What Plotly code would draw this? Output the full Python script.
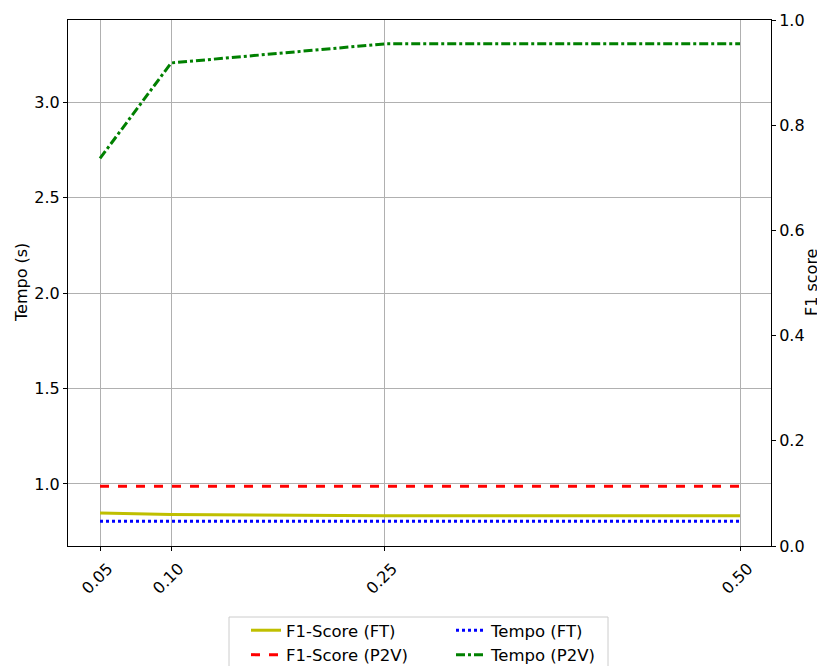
import plotly.graph_objects as go

x_vals = [0.05, 0.10, 0.25, 0.50]
x_ticklabels = ["0.05", "0.10", "0.25", "0.50"]
f1_ft = [0.848, 0.840, 0.834, 0.833]
f1_p2v = [0.988, 0.988, 0.991, 0.988]
tempo_ft = [0.805, 0.805, 0.805, 0.805]
tempo_p2v = [2.705, 3.205, 3.305, 3.305]

FONT = "DejaVu Sans"
W, H = 825, 666
OFF = 8  # page body margin offset
# plot area in page pixels: left 68, right 771, top 20, bottom 546
L = 68 - OFF
T = 20 - OFF
R = W - (771 - OFF)
B = H - (546 - OFF)
PW, PH = W - L - R, H - T - B


def px_x(p):
    """page pixel x -> paper fraction"""
    return (p - OFF - L) / PW


def px_y(p):
    """page pixel y -> paper fraction"""
    return (T + PH - (p - OFF)) / PH


fig = go.Figure()
fig.add_trace(go.Scatter(x=x_vals, y=f1_ft, mode="lines", name="F1-Score (FT)",
                         line=dict(color="#bfbf00", width=3), legend="legend"))
fig.add_trace(go.Scatter(x=x_vals, y=f1_p2v, mode="lines", name="F1-Score (P2V)",
                         line=dict(color="#ff0000", width=3, dash="dash"), legend="legend"))
fig.add_trace(go.Scatter(x=x_vals, y=tempo_ft, mode="lines", name="Tempo (FT)",
                         line=dict(color="#0000ff", width=3, dash="dot"), legend="legend2"))
fig.add_trace(go.Scatter(x=x_vals, y=tempo_p2v, mode="lines", name="Tempo (P2V)",
                         line=dict(color="#008000", width=3, dash="dashdot"), legend="legend2"))
# invisible trace to activate the right axis
fig.add_trace(go.Scatter(x=[x_vals[0]], y=[0], yaxis="y2", mode="lines",
                         showlegend=False, hoverinfo="skip", line=dict(width=0)))

leg_common = dict(orientation="v", yanchor="top", xanchor="left", bgcolor="rgba(0,0,0,0)",
                  borderwidth=0, font=dict(size=16.5, family=FONT), tracegroupgap=0)

fig.update_layout(
    width=W, height=H,
    paper_bgcolor="white", plot_bgcolor="white",
    margin=dict(l=L, r=R, t=T, b=B, autoexpand=False),
    font=dict(family=FONT, size=16, color="black"),
    xaxis=dict(range=[0.0275, 0.5218], tickvals=x_vals, ticktext=x_ticklabels,
               tickangle=-45, showgrid=True, gridcolor="#b0b0b0", gridwidth=1,
               showline=True, linecolor="black", linewidth=1, mirror=True,
               ticks="outside", ticklen=4, tickcolor="black", zeroline=False,
               ticklabelshift=8, ticklabelstandoff=2,
               automargin=False),
    yaxis=dict(range=[0.675, 3.43], tickvals=[1.0, 1.5, 2.0, 2.5, 3.0],
               ticktext=["1.0", "1.5", "2.0", "2.5", "3.0"],
               showgrid=True, gridcolor="#b0b0b0", gridwidth=1,
               showline=True, linecolor="black", linewidth=1, mirror=True,
               ticks="outside", ticklen=4, tickcolor="black", zeroline=False,
               automargin=False),
    yaxis2=dict(range=[0, 1], overlaying="y", side="right",
                tickvals=[0, 0.2, 0.4, 0.6, 0.8, 1.0],
                ticktext=["0.0", "0.2", "0.4", "0.6", "0.8", "1.0"],
                showgrid=False, zeroline=False, showline=True, linecolor="black",
                ticks="outside", ticklen=4, tickcolor="black", automargin=False),
    legend=dict(x=px_x(246), y=px_y(613), **leg_common),
    legend2=dict(x=px_x(451), y=px_y(613), **leg_common),
    showlegend=True,
    annotations=[
        dict(text="Tempo (s)", xref="paper", yref="paper", x=px_x(21), y=0.5,
             xanchor="center", yanchor="middle",
             textangle=-90, showarrow=False, font=dict(size=16)),
        dict(text="F1 score", xref="paper", yref="paper", x=px_x(811), y=0.5,
             xanchor="center", yanchor="middle",
             textangle=-90, showarrow=False, font=dict(size=16)),
    ],
    shapes=[
        dict(type="rect", xref="paper", yref="paper",
             x0=px_x(229), x1=px_x(608), y0=px_y(617), y1=px_y(700),
             line=dict(color="#cccccc", width=1), fillcolor="rgba(0,0,0,0)", layer="below"),
    ],
)

fig.write_html("out.html")
